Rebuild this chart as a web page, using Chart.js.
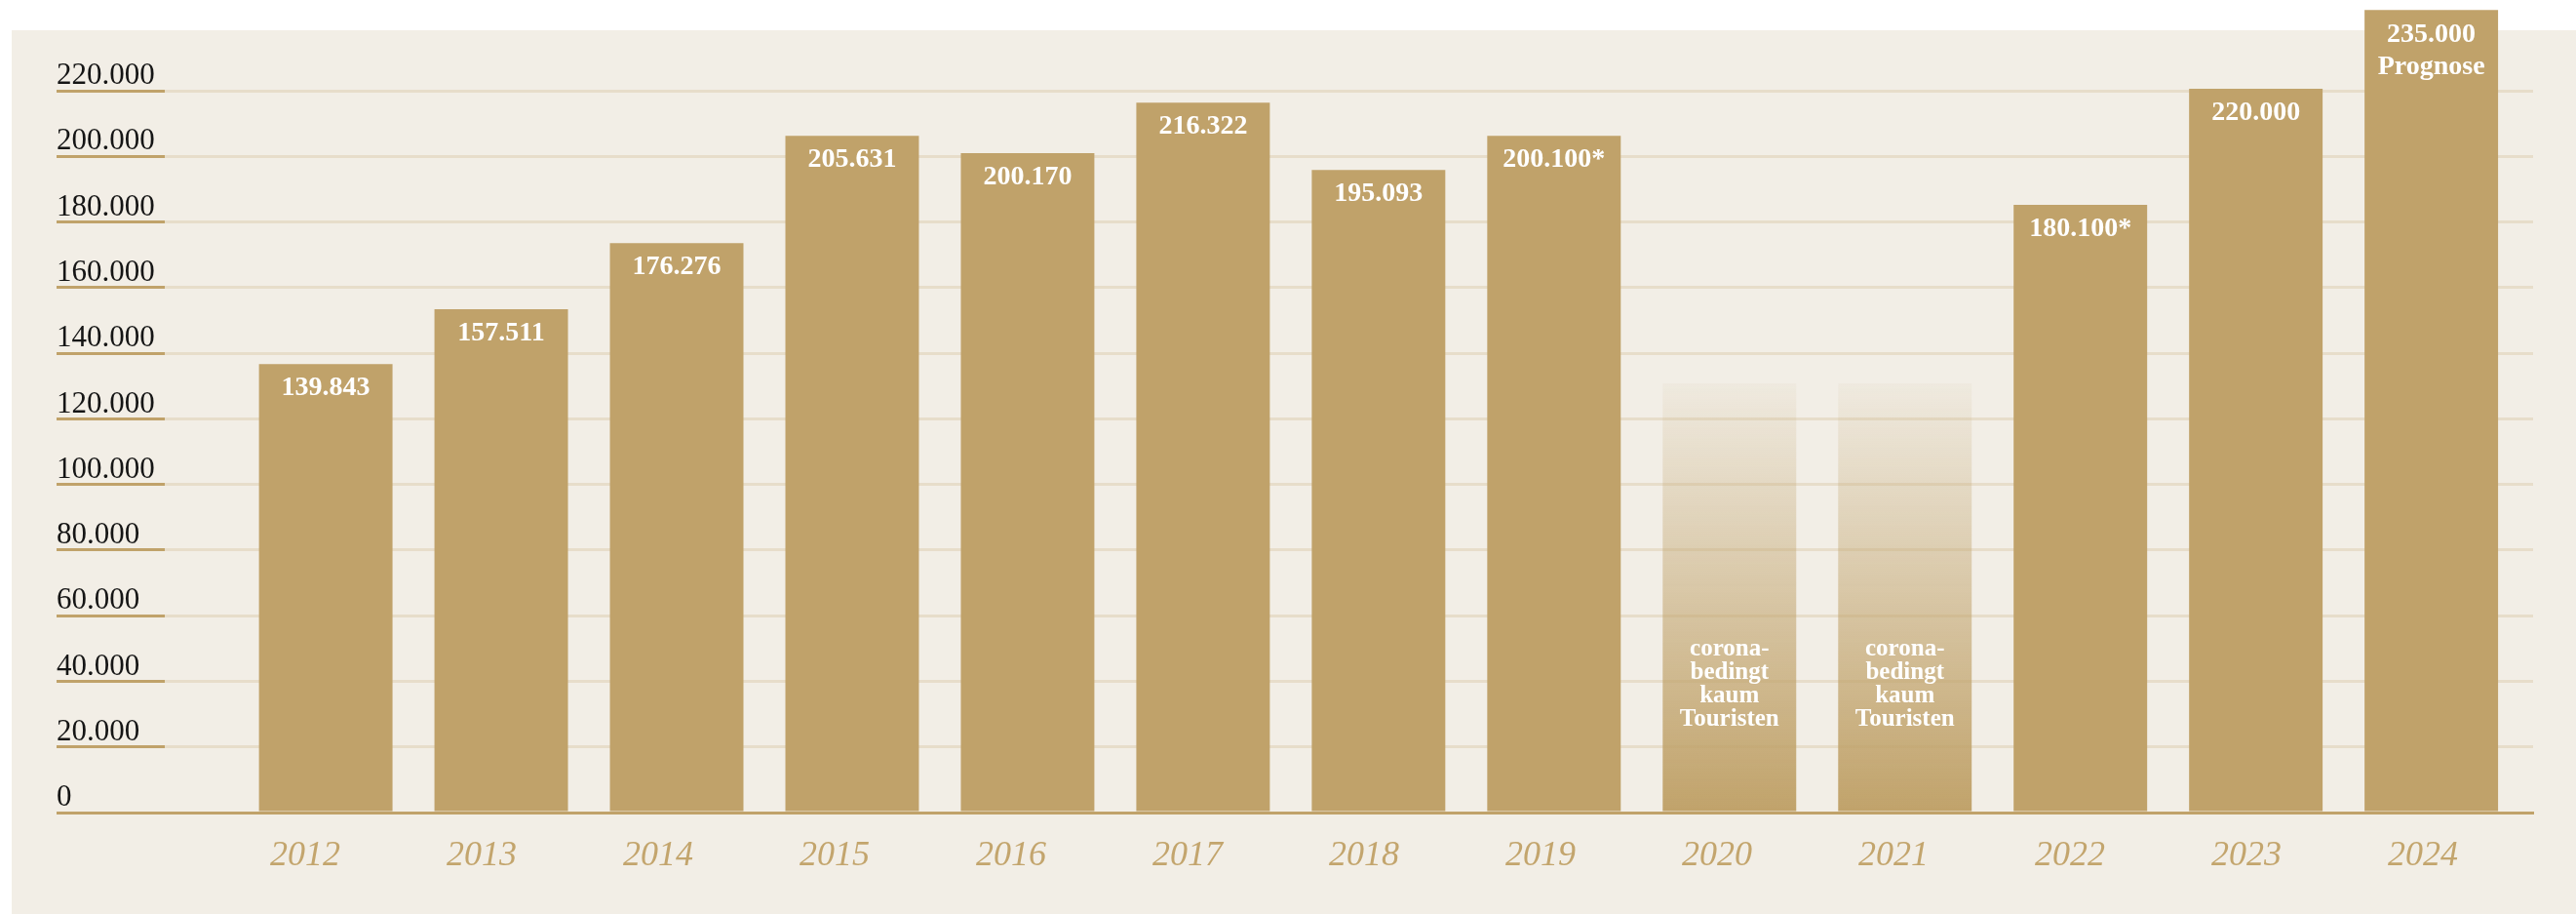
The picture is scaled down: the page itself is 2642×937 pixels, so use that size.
<!DOCTYPE html>
<html lang="de">
<head>
<meta charset="utf-8">
<title>Touristen 2012-2024</title>
<script src="https://cdn.jsdelivr.net/npm/chart.js@4.4.1/dist/chart.umd.min.js"></script>
<style>
  html, body { margin: 0; padding: 0; background: #fff; }
  #wrap { position: relative; width: 2642px; height: 937px; }
  #panel { position: absolute; left: 12px; top: 31px; right: 0; bottom: 0; background: #f2eee6; }
  #chart { position: absolute; left: 0; top: 0; }
</style>
</head>
<body>
<div id="wrap">
  <div id="panel"></div>
  <canvas id="chart" width="2642" height="937"></canvas>
</div>
<script>
// data (bar heights as drawn)
const years = [2012, 2013, 2014, 2015, 2016, 2017, 2018, 2019, 2020, 2021, 2022, 2023, 2024];
const visitors = [136700, 153400, 173600, 206300, 201000, 216400, 195900, 206300, null, null, 185200, 220600, 244600];
const barLabels = ['139.843', '157.511', '176.276', '205.631', '200.170', '216.322', '195.093', '200.100*', '', '', '180.100*', '220.000', '235.000\nPrognose'];
// faded placeholder bars for the corona years
const coronaBars = [null, null, null, null, null, null, null, null, 130800, 130800, null, null, null];
const coronaNote = ['corona-', 'bedingt', 'kaum', 'Touristen'];
const yTicks = [0, 10000, 20000, 30000, 40000, 50000, 60000, 70000, 80000, 90000, 100000, 110000,
                120000, 130000, 140000, 150000, 160000, 170000, 180000, 190000, 200000, 210000, 220000];
const yLabelled = [0, 20000, 40000, 60000, 80000, 100000, 120000, 140000, 160000, 180000, 200000, 220000];

const GOLD = '#c0a26a';
const GRID = '#e7ddca';
const FONT = "'Liberation Serif', 'DejaVu Serif', serif";

Chart.defaults.font.family = FONT;

const barText = {
    id: 'barText',
    afterDatasetsDraw(chart) {
        const c = chart.ctx;
        c.save();
        c.fillStyle = '#ffffff';
        c.textAlign = 'center';
        c.textBaseline = 'middle';
        c.font = 'bold 28px ' + FONT;
        chart.getDatasetMeta(0).data.forEach((bar, i) => {
            if (!barLabels[i]) return;
            barLabels[i].split('\n').forEach((line, j) => {
                c.fillText(line, bar.x, bar.y + 25 + j * 33);
            });
        });
        c.font = 'bold 25px ' + FONT;
        chart.getDatasetMeta(1).data.forEach((bar, i) => {
            if (coronaBars[i] == null) return;
            coronaNote.forEach((line, j) => {
                c.fillText(line, bar.x, bar.base - 166 + j * 24);
            });
        });
        c.restore();
    }
};

function coronaFill(ctx) {
    const chart = ctx.chart;
    if (!chart.chartArea) return GOLD;
    const top = chart.scales.y.getPixelForValue(Math.max(...coronaBars.filter(v => v != null)));
    const g = chart.ctx.createLinearGradient(0, top, 0, chart.chartArea.bottom);
    g.addColorStop(0, 'rgba(192, 162, 106, 0.05)');
    g.addColorStop(1, 'rgba(192, 162, 106, 1)');
    return g;
}

const ctx = document.getElementById('chart').getContext('2d');
new Chart(ctx, {
    type: 'bar',
    data: {
        datasets: [
            {
                label: 'Touristen',
                data: years.map((x, i) => ({ x: x, y: visitors[i] })),
                backgroundColor: GOLD,
            },
            {
                label: 'corona',
                data: years.map((x, i) => ({ x: x, y: coronaBars[i] })),
                backgroundColor: coronaFill,
            },
        ],
    },
    options: {
        responsive: false,
        animation: false,
        devicePixelRatio: 1,
        grouped: false,
        barPercentage: 0.761,
        categoryPercentage: 1,
        layout: {
            padding: { top: 9, right: 44, bottom: 0, left: 58 },
        },
        plugins: {
            legend: { display: false },
            tooltip: { enabled: false },
        },
        scales: {
            // bar positions
            x: {
                type: 'linear',
                display: false,
                offset: false,
                min: 2011.0826,
                max: 2024.5801,
                afterBuildTicks: axis => { axis.ticks = years.map(v => ({ value: v })); },
            },
            // year labels (spaced a little differently from the bars in the original)
            x2: {
                type: 'linear',
                position: 'bottom',
                offset: false,
                min: 2011.204,
                max: 2024.624,
                afterBuildTicks: axis => { axis.ticks = years.map(v => ({ value: v })); },
                afterFit: axis => { axis.height = 104; },
                grid: { display: false, drawTicks: false, offset: false },
                border: { display: true, color: GOLD, width: 3 },
                ticks: {
                    autoSkip: false,
                    maxRotation: 0,
                    padding: 23,
                    color: '#c3a56d',
                    font: { size: 36, style: 'italic', family: FONT },
                    callback: v => String(v),
                },
            },
            y: {
                min: 0,
                max: 245000,
                afterBuildTicks: axis => { axis.ticks = yTicks.map(v => ({ value: v })); },
                afterFit: axis => {
                    axis.width = 111;
                    axis.paddingTop = 0;
                    axis.paddingBottom = 0;
                },
                border: { display: false },
                grid: {
                    lineWidth: 3,
                    color: c => c.tick.value === 0 ? GOLD : GRID,
                    drawTicks: true,
                    tickLength: 111,
                    tickWidth: 3,
                    tickColor: c => yLabelled.includes(c.tick.value) ? GOLD : 'transparent',
                },
                ticks: {
                    crossAlign: 'far',
                    labelOffset: -15,
                    padding: 0,
                    color: '#151515',
                    font: { size: 31, family: FONT },
                    callback: v => yLabelled.includes(v) ? v.toLocaleString('de-DE') : '',
                },
            },
        },
    },
    plugins: [barText],
});
</script>
</body>
</html>
